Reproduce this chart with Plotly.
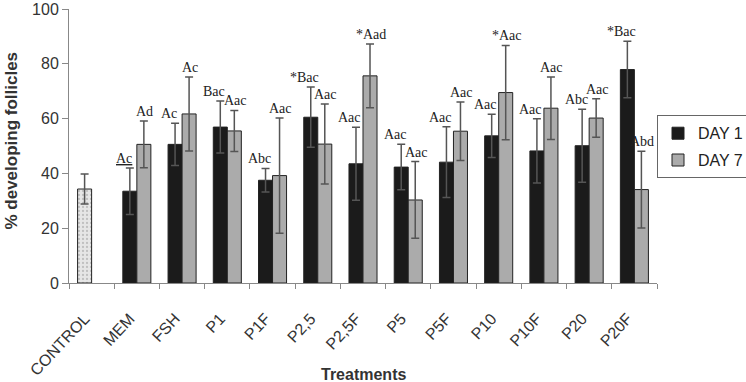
import plotly.graph_objects as go

categories = ["CONTROL", "MEM", "FSH", "P1", "P1F", "P2,5", "P2,5F", "P5", "P5F",
              "P10", "P10F", "P20", "P20F"]
treatments = categories[1:]

control_mean = [34.3]
control_err = [5.5]

day1 = [33.5, 50.6, 56.9, 37.5, 60.5, 43.5, 42.3, 44.1, 53.7, 48.2, 50.1, 77.9]
day1_err = [8.5, 7.7, 9.5, 4.3, 11.0, 13.3, 8.3, 12.9, 7.9, 11.7, 13.3, 10.3]
day7 = [50.6, 61.7, 55.5, 39.2, 50.7, 75.6, 30.3, 55.4, 69.5, 63.8, 60.2, 34.1]
day7_err = [8.5, 13.5, 7.5, 21.0, 14.6, 11.6, 14.0, 10.7, 17.2, 11.4, 7.0, 14.0]

labels1 = ["Ac", "Ac", "Bac", "Abc", "*Bac", "Aac", "Aac", "Aac", "Aac", "Aac", "Abc", "*Bac"]
labels7 = ["Ad", "Ac", "Aac", "Aac", "Aac", "*Aad", "Aac", "Aac", "*Aac", "Aac", "Aac", "Abd"]

y_ticks = [0, 20, 40, 60, 80, 100]

BARGAP = 0.38
HALF = (1 - BARGAP) / 4  # offset of each bar centre from category centre

err_style = dict(type="data", color="#555555", thickness=1.5, width=4)
line_style = dict(color="#222222", width=1)

fig = go.Figure()
fig.add_trace(go.Bar(
    x=["CONTROL"], y=control_mean, offsetgroup="d1", showlegend=False,
    marker=dict(color="#e4e4e4", line=line_style,
                pattern=dict(shape=".", fgcolor="#9a9a9a", bgcolor="#e6e6e6", size=4, solidity=0.25)),
    error_y=dict(array=control_err, **err_style),
))
fig.add_trace(go.Bar(
    x=treatments, y=day1, name="DAY 1", offsetgroup="d1", legendgroup="a",
    marker=dict(color="#1b1b1b", line=line_style),
    error_y=dict(array=day1_err, **err_style),
))
fig.add_trace(go.Bar(
    x=treatments, y=day7, name="DAY 7", offsetgroup="d7", legendgroup="b",
    marker=dict(color="#ababab", line=line_style),
    error_y=dict(array=day7_err, **err_style),
))

annotations = []
label_font = dict(family="Liberation Serif, Times New Roman, serif", size=14, color="#222222")
for i, cat in enumerate(treatments):
    idx = categories.index(cat)
    t1 = labels1[i]
    if i == 0:
        t1 = '<span style="text-decoration:underline">' + t1 + '</span>'
    annotations.append(dict(x=idx - HALF, y=day1[i] + day1_err[i], xref="x", yref="y",
                            text=t1, showarrow=False, yanchor="bottom", xanchor="center",
                            xshift=-6, font=label_font))
    annotations.append(dict(x=idx + HALF, y=day7[i] + day7_err[i], xref="x", yref="y",
                            text=labels7[i], showarrow=False, yanchor="bottom", xanchor="center",
                            xshift=1, font=label_font))

axis_font = dict(family="Liberation Sans, Arial, sans-serif", size=16, color="#333333")
annotations.append(dict(text="<b>% developing follicles</b>", xref="paper", yref="paper",
                        x=0, y=0.52, xshift=-57, textangle=-90, showarrow=False,
                        xanchor="center", yanchor="middle",
                        font=dict(family="Liberation Sans, Arial, sans-serif", size=17, color="#333333")))
annotations.append(dict(text="<b>Treatments</b>", xref="paper", yref="paper",
                        x=0.5, y=0, yshift=-91, showarrow=False,
                        xanchor="center", yanchor="middle",
                        font=dict(family="Liberation Sans, Arial, sans-serif", size=16, color="#333333")))

fig.update_layout(
    width=746, height=382,
    margin=dict(l=69, r=89, t=9, b=99, autoexpand=False),
    paper_bgcolor="white", plot_bgcolor="white",
    barmode="group", bargap=BARGAP, bargroupgap=0,
    showlegend=True,
    legend=dict(x=1.0, y=0.612, xanchor="left", yanchor="top", itemwidth=30,
                bordercolor="#666666", borderwidth=1, tracegroupgap=3,
                font=dict(family="Liberation Sans, Arial, sans-serif", size=16, color="#222222")),
    annotations=annotations,
)
fig.update_xaxes(type="category", categoryorder="array", categoryarray=categories,
                 showline=True, linecolor="#888888", linewidth=1, automargin=False,
                 ticks="outside", tickson="boundaries", ticklen=5, tickcolor="#888888",
                 tickangle=-47, tickfont=axis_font, ticklabelstandoff=19, ticklabelshift=-7,
                 showgrid=False, zeroline=False)
fig.update_yaxes(range=[0, 100], tickvals=y_ticks, showline=True, linecolor="#888888", linewidth=1,
                 ticks="outside", ticklen=6, tickcolor="#888888", tickfont=axis_font,
                 ticklabeloverflow="allow", automargin=False,
                 showgrid=False, zeroline=False)

fig.write_html("out.html")
